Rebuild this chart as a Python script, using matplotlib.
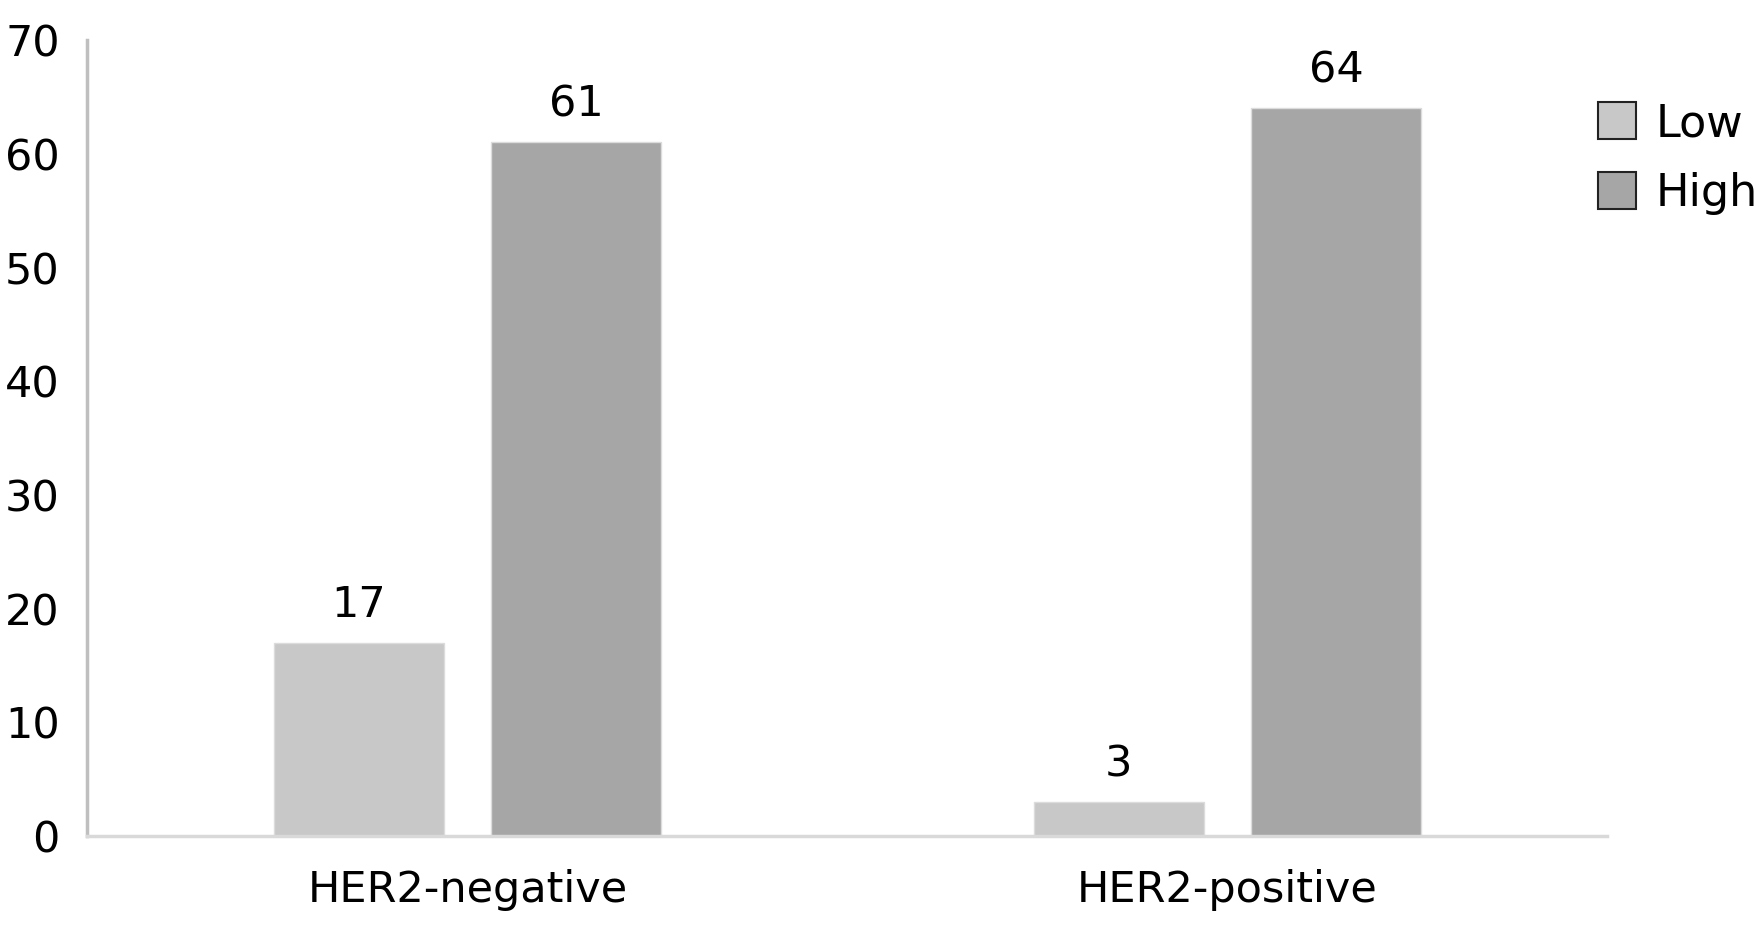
import numpy as np
import matplotlib.pyplot as plt

categories = ["HER2-negative", "HER2-positive"]
series_names = ["Low", "High"]
low_values = [17, 3]
high_values = [61, 64]
y_ticks = [0, 10, 20, 30, 40, 50, 60, 70]

colors = ["#c8c8c8", "#a6a6a6"]

fig = plt.figure(figsize=(17.57, 9.34), dpi=100)
ax = fig.add_axes([0.0498, 0.105, 0.865, 0.852])

x = np.arange(len(categories))
width = 0.224
offset = 0.143

bars_low = ax.bar(x - offset, low_values, width, color=colors[0],
                  edgecolor="#dcdcdc", linewidth=1, label=series_names[0])
bars_high = ax.bar(x + offset, high_values, width, color=colors[1],
                   edgecolor="#dcdcdc", linewidth=1, label=series_names[1])

for bars in (bars_low, bars_high):
    for b in bars:
        ax.annotate(f"{int(b.get_height())}",
                    (b.get_x() + b.get_width() / 2, b.get_height()),
                    xytext=(0, 12), textcoords="offset points",
                    ha="center", va="bottom", fontsize=31)

ax.set_xlim(-0.5, 1.5)
ax.set_ylim(0, 70)
ax.set_yticks(y_ticks)
ax.set_xticks(x)
ax.set_xticklabels(categories, fontsize=31)
ax.tick_params(axis="y", labelsize=31, length=0, pad=20)
ax.tick_params(axis="x", length=0, pad=24)

for s in ("top", "right"):
    ax.spines[s].set_visible(False)
ax.spines["left"].set_color("#bfbfbf")
ax.spines["left"].set_linewidth(2.5)
ax.spines["bottom"].set_color("#d9d9d9")
ax.spines["bottom"].set_linewidth(2.5)

leg = ax.legend(loc="upper left", bbox_to_anchor=(0.994, 0.922), frameon=False,
                fontsize=32, handlelength=0.85, handleheight=0.9,
                handletextpad=0.45, labelspacing=0.6, borderaxespad=0,
                borderpad=0)
for h in leg.legend_handles:
    h.set_edgecolor("#222222")
    h.set_linewidth(1.5)

fig.savefig("out.png", dpi=100)
